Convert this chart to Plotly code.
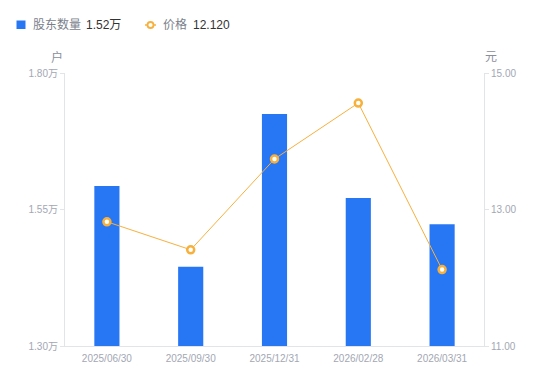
import plotly.graph_objects as go

dates = ["2025/06/30", "2025/09/30", "2025/12/31", "2026/02/28", "2026/03/31"]
holders = [15930, 14450, 17250, 15710, 15230]
prices = [12.82, 12.41, 13.74, 14.56, 12.12]
left_ticks = [13000, 15500, 18000]
left_tick_text = ["1.30万", "1.55万", "1.80万"]
right_ticks = [11, 13, 15]
right_tick_text = ["11.00", "13.00", "15.00"]
legend_names = ["股东数量", "价格"]
legend_values = ["1.52万", "12.120"]

FONT = "Liberation Sans, Arial, Noto Sans CJK SC, sans-serif"
TICK_COLOR = "#a3a7b3"
AXIS_COLOR = "#e3e4e8"
BLUE = "#2777f5"
ORANGE = "#f7b03c"

W, H = 550, 381
L, R, T, B = 65, 66, 73, 35
PW, PH = W - L - R, H - T - B


def px(x):
    return (x - L) / PW


def py(y):
    return (H - B - y) / PH


fig = go.Figure()
fig.add_trace(go.Bar(
    x=dates, y=holders, width=0.3,
    marker=dict(color=BLUE, line=dict(width=0)),
    name=legend_names[0], yaxis="y", hoverinfo="skip",
))
fig.add_trace(go.Scatter(
    x=dates, y=prices, mode="lines+markers",
    line=dict(color=ORANGE, width=1),
    marker=dict(symbol="circle", size=7, color="#ffffff", line=dict(color=ORANGE, width=2.5)),
    name=legend_names[1], yaxis="y2", hoverinfo="skip",
))

label_font = dict(size=12, color="#7b7f8c")
value_font = dict(size=12, color="#333333")
annotations = [
    dict(text="户", x=px(57), y=py(57)),
    dict(text="元", x=px(491), y=py(57)),
]
annotations = [dict(a, xref="paper", yref="paper", xanchor="center", yanchor="middle",
                    showarrow=False, font=dict(size=12, color="#8a8e9b")) for a in annotations]
for xpos, txt, fnt in [(30.5, legend_names[0], label_font), (84, legend_values[0], value_font),
                       (160.5, legend_names[1], label_font), (190.5, legend_values[1], value_font)]:
    annotations.append(dict(text=txt, x=px(xpos), y=py(25), xref="paper", yref="paper",
                            xanchor="left", yanchor="middle", showarrow=False, font=fnt))

shapes = [
    dict(type="rect", xref="paper", yref="paper", x0=px(16.5), x1=px(25.5), y0=py(29), y1=py(20.5),
         fillcolor=BLUE, line=dict(width=0)),
    dict(type="line", xref="paper", yref="paper", x0=px(145), x1=px(156), y0=py(25), y1=py(25),
         line=dict(color=ORANGE, width=1.5)),
    dict(type="circle", xref="paper", yref="paper", x0=px(147.5), x1=px(153.5), y0=py(28), y1=py(22),
         fillcolor="#ffffff", line=dict(color=ORANGE, width=1.8)),
]

fig.update_layout(
    width=W, height=H,
    margin=dict(l=L, r=R, t=T, b=B, autoexpand=False),
    paper_bgcolor="white", plot_bgcolor="white",
    font=dict(family=FONT, size=10, color=TICK_COLOR),
    showlegend=False,
    xaxis=dict(showgrid=False, showline=True, linecolor=AXIS_COLOR, linewidth=1,
               ticks="", ticklabelstandoff=3, tickfont=dict(size=10, color=TICK_COLOR),
               automargin=False),
    yaxis=dict(range=[13000, 18000], tickvals=left_ticks, ticktext=left_tick_text,
               showgrid=False, showline=True, linecolor=AXIS_COLOR, linewidth=1,
               ticks="outside", ticklen=4, tickcolor=AXIS_COLOR, automargin=False,
               tickfont=dict(size=10, color=TICK_COLOR), zeroline=False),
    yaxis2=dict(range=[11, 15], tickvals=right_ticks, ticktext=right_tick_text,
                overlaying="y", side="right", automargin=False,
                showgrid=False, showline=True, linecolor=AXIS_COLOR, linewidth=1,
                ticks="outside", ticklen=4, tickcolor=AXIS_COLOR,
                tickfont=dict(size=10, color=TICK_COLOR), zeroline=False),
    annotations=annotations,
    shapes=shapes,
)

fig.write_html("out.html", config={"displayModeBar": False},
               post_script="document.body.style.margin='0';")
